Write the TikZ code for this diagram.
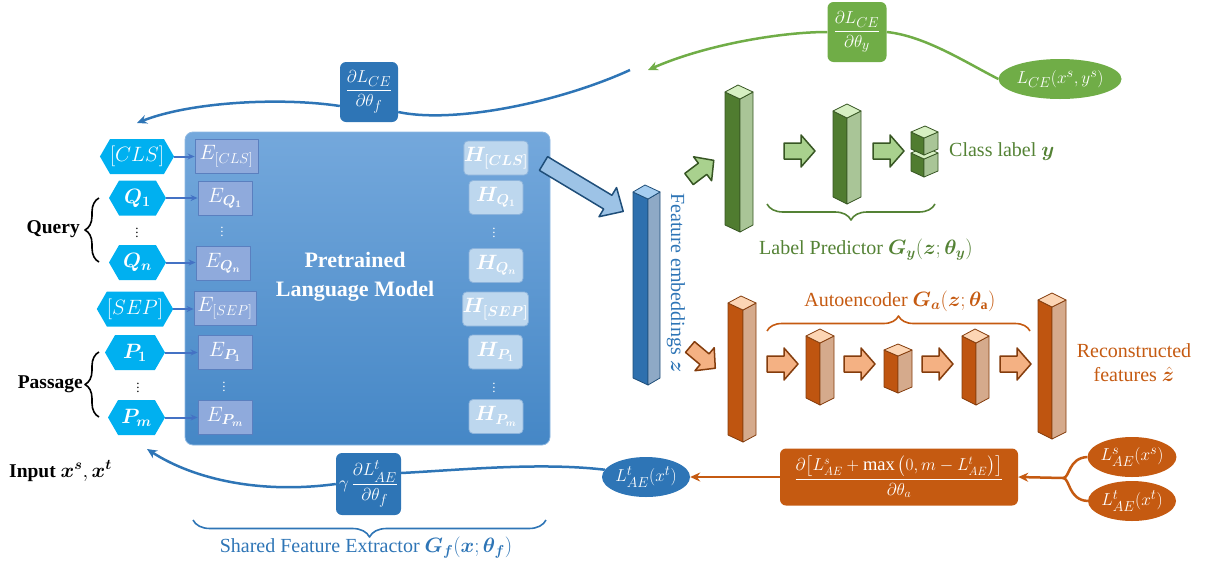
\documentclass[tikz,border=0pt]{standalone}
\usepackage{fontspec}
\setmainfont{Liberation Serif}
\usepackage{amsmath}
\usepackage{bm}
\usetikzlibrary{shapes.symbols,shapes.geometric,arrows.meta,decorations.pathreplacing}

% palette
\definecolor{plmtop}{HTML}{74A8DC}
\definecolor{plmbot}{HTML}{4587C6}
\definecolor{plmedge}{HTML}{8DB8E2}
\definecolor{hexcyan}{HTML}{00B0F0}
\definecolor{ebox}{HTML}{8FAADC}
\definecolor{eboxedge}{HTML}{5A7FBF}
\definecolor{hbox}{HTML}{BDD7EE}
\definecolor{hboxedge}{HTML}{8DB4DC}
\definecolor{darkblue}{HTML}{2E75B6}
\definecolor{linkblue}{HTML}{4472C4}
\definecolor{navy}{HTML}{1F4E79}
\definecolor{skyblue}{HTML}{9DC3E6}
\definecolor{bfront}{HTML}{2E70AE}
\definecolor{bside}{HTML}{8EA9C6}
\definecolor{btop}{HTML}{A5CDF0}
\definecolor{bedge}{HTML}{1F4E79}
\definecolor{ggreen}{HTML}{70AD47}
\definecolor{gtext}{HTML}{548235}
\definecolor{gfront}{HTML}{507C30}
\definecolor{gside}{HTML}{A9C597}
\definecolor{gtop}{HTML}{D6EFC2}
\definecolor{gedge}{HTML}{375623}
\definecolor{garrow}{HTML}{A9D18E}
\definecolor{orng}{HTML}{C55A11}
\definecolor{ofront}{HTML}{BF5510}
\definecolor{oside}{HTML}{D5AA8C}
\definecolor{otop}{HTML}{FCD5B4}
\definecolor{oedge}{HTML}{843C0C}
\definecolor{oarrow}{HTML}{F4B183}

% a layer drawn as a prism: left x, ridge x, right x, top y, bottom y, depth, palette
\newcommand{\drawprism}[7]{%
  \filldraw[draw=#7edge, line width=0.8pt, fill=#7front] (#1,#4) -- (#2,#4+#6) -- (#2,#5+#6) -- (#1,#5) -- cycle;
  \filldraw[draw=#7edge, line width=0.8pt, fill=#7side] (#2,#4+#6) -- (#3,#4) -- (#3,#5) -- (#2,#5+#6) -- cycle;
  \filldraw[draw=#7edge, line width=0.8pt, fill=#7top] (#1,#4) -- (#1+#3-#2,#4-#6) -- (#3,#4) -- (#2,#4+#6) -- cycle;}

% a block arrow: tail x, tail y, angle, length, shaft half width, head half width, head length, style
\newcommand{\blockarrow}[8]{%
  \begin{scope}[shift={(#1,#2)}, rotate=#3]
    \filldraw[#8] (0,#5) -- (#4-#7,#5) -- (#4-#7,#6) -- (#4,0) -- (#4-#7,-#6) -- (#4-#7,-#5) -- (0,-#5) -- cycle;
  \end{scope}}

\begin{document}
\begin{tikzpicture}[x=1pt, y=-1pt, line join=round,
  lbl/.style={font=\fontsize{20}{24}\selectfont, inner sep=0pt},
  hex/.style={signal, signal to=east and west, signal pointer angle=120, fill=hexcyan, draw=none,
    text=white, minimum height=35pt, inner sep=0pt, font=\fontsize{20}{22}\selectfont},
  ebx/.style={rectangle, fill=ebox, draw=eboxedge, line width=0.8pt, text=white,
    minimum height=34pt, inner sep=0pt, font=\fontsize{20}{22}\selectfont},
  hbx/.style={rectangle, rounded corners=4pt, fill=hbox, draw=hboxedge, line width=0.8pt, text=white,
    minimum height=34pt, inner sep=0pt, font=\fontsize{20}{22}\selectfont},
  dotsw/.style={text=white, inner sep=0pt, font=\fontsize{13}{14}\selectfont},
  feed/.style={draw=linkblue, line width=2pt, -{Stealth[length=7pt,width=6pt]}},
  tip/.style={-{Stealth[length=10pt,width=9pt]}},
  bwire/.style={draw=darkblue, line width=2.5pt},
  gwire/.style={draw=ggreen, line width=2.5pt},
  owire/.style={draw=orng, line width=2.5pt},
  gradbox/.style={rectangle, rounded corners=6pt, text=white, inner sep=2pt, font=\fontsize{19}{22}\selectfont},
  lossell/.style={ellipse, text=white, inner sep=0pt, font=\fontsize{19}{22}\selectfont},
  curly/.style={decorate, decoration={brace, amplitude=#1}, line width=1.6pt},
  garr/.style={fill=garrow, draw=gedge, line width=1.5pt},
  oarr/.style={fill=oarrow, draw=oedge, line width=1.5pt},
  barr/.style={fill=skyblue, draw=navy, line width=1.5pt}]
\useasboundingbox (0,0) rectangle (1206,568);

% ---------- shared feature extractor ----------
\node[rectangle, rounded corners=8pt, top color=plmtop, bottom color=plmbot, draw=plmedge, line width=0.8pt,
  minimum width=365pt, minimum height=313pt] (plm) at (367.5,288.5) {};
\node[font=\bfseries\fontsize{22}{29}\selectfont, text=white, align=center] (plmtext) at (355,277)
  {Pretrained\\Language Model};

% input tokens
\node[hex, minimum width=70pt] (xcls) at (137,156.5) {$[CLS]$};
\node[hex, minimum width=57pt] (xq1) at (137.5,198) {$\bm{Q_1}$};
\node[inner sep=0pt, font=\fontsize{13}{14}\selectfont] (xqdots) at (137,230) {$\vdots$};
\node[hex, minimum width=57pt] (xqn) at (137.5,262.5) {$\bm{Q_n}$};
\node[hex, minimum width=74pt] (xsep) at (135,309) {$[SEP]$};
\node[hex, minimum width=60pt] (xp1) at (135,352.5) {$\bm{P_1}$};
\node[inner sep=0pt, font=\fontsize{13}{14}\selectfont] (xpdots) at (138,385) {$\vdots$};
\node[hex, minimum width=57pt] (xpm) at (136.5,417.5) {$\bm{P_m}$};

% embeddings
\node[ebx, minimum width=63pt] (ecls) at (226.5,156.5) {$E_{[CLS]}$};
\node[ebx, minimum width=54pt] (eq1) at (225,198) {$E_{\bm{Q_1}}$};
\node[dotsw] (eqdots) at (222,229) {$\vdots$};
\node[ebx, minimum width=54pt] (eqn) at (223,263) {$E_{\bm{Q_n}}$};
\node[ebx, minimum width=62pt] (esep) at (225,308.5) {$E_{[SEP]}$};
\node[ebx, minimum width=54pt] (ep1) at (225,352) {$E_{\bm{P_1}}$};
\node[dotsw] (epdots) at (224,384) {$\vdots$};
\node[ebx, minimum width=54pt] (epm) at (225,417) {$E_{\bm{P_m}}$};

% hidden states
\node[hbx, minimum width=62pt] (hcls) at (496,158) {$\bm{H_{[CLS]}}$};
\node[hbx, minimum width=54pt] (hq1) at (496,197.5) {$\bm{H_{Q_1}}$};
\node[dotsw] (hqdots) at (494,230) {$\vdots$};
\node[hbx, minimum width=54pt] (hqn) at (496,265.5) {$\bm{H_{Q_n}}$};
\node[hbx, minimum width=63pt] (hsep) at (495.5,309) {$\bm{H_{[SEP]}}$};
\node[hbx, minimum width=54pt] (hp1) at (495.5,352) {$\bm{H_{P_1}}$};
\node[dotsw] (hpdots) at (494,385) {$\vdots$};
\node[hbx, minimum width=54pt] (hpm) at (496,416.5) {$\bm{H_{P_m}}$};

% token -> embedding
\foreach \a/\b in {xcls/ecls, xq1/eq1, xqn/eqn, xsep/esep, xp1/ep1, xpm/epm}
  \draw[feed] (\a.east) -- (\a.east -| \b.west);

% grouping braces
\draw[curly=14] (99,262) -- (99,198);
\node[font=\bfseries\fontsize{19.5}{22}\selectfont, anchor=east, inner sep=0pt] (query) at (80,229) {Query};
\draw[curly=14] (99,417) -- (99,352);
\node[font=\bfseries\fontsize{19.5}{22}\selectfont, anchor=east, inner sep=0pt] (passage) at (83,384) {Passage};
\node[font=\bfseries\fontsize{19.5}{22}\selectfont, anchor=west, inner sep=0pt] (input) at (9,471)
  {Input $\bm{x^s},\bm{x^t}$};

\draw[curly=17, draw=darkblue] (546,520) -- (193,520);
\node[lbl, text=darkblue] (gflabel) at (366,548) {Shared Feature Extractor $\bm{G_f}(\bm{x};\bm{\theta_f})$};

% ---------- feature embeddings ----------
\blockarrow{543.5}{163.5}{-31}{93}{8}{17}{18}{barr}
\drawprism{633}{648}{660}{192}{378}{7}{b}
\node[lbl, text=darkblue, rotate=-90] (zlabel) at (676,283) {Feature embeddings $\bm{z}$};

% ---------- label predictor ----------
\blockarrow{689}{179}{37}{31}{7}{15}{14}{garr}
\drawprism{725}{740}{753}{92}{225}{7}{g}
\blockarrow{784}{151}{0}{31}{8}{16}{14}{garr}
\drawprism{833}{847}{861}{111}{197}{7}{g}
\blockarrow{873}{151}{0}{31}{8}{16}{14}{garr}
\drawprism{911}{924}{938}{153}{171}{6}{g}
\drawprism{911}{924}{938}{132}{149}{6}{g}
\node[lbl, text=gtext, anchor=west] (ylabel) at (949,152) {Class label $\bm{y}$};
\draw[curly=16, draw=gtext] (935,204) -- (767,204);
\node[lbl, text=gtext] (gylabel) at (866,250) {Label Predictor $\bm{G_y}(\bm{z};\bm{\theta_y})$};

% ---------- autoencoder ----------
\blockarrow{690}{347}{-40}{33}{7}{15}{14}{oarr}
\drawprism{728}{743}{756}{303}{435}{7}{o}
\blockarrow{767}{364}{0}{31}{8}{16}{14}{oarr}
\drawprism{806}{820}{834}{336}{398}{7}{o}
\blockarrow{844}{364}{0}{31}{8}{16}{14}{oarr}
\drawprism{884}{898}{912}{350}{387}{6}{o}
\blockarrow{922}{364}{0}{31}{8}{16}{14}{oarr}
\drawprism{962}{976}{989}{336}{398}{7}{o}
\blockarrow{1000}{364}{0}{31}{8}{16}{14}{oarr}
\drawprism{1038}{1052}{1066}{300}{432}{7}{o}
\draw[curly=15, draw=orng] (767,331) -- (1030,331);
\node[lbl, text=orng] (galabel) at (900,301) {Autoencoder $\bm{G_a}(\bm{z};\bm{\theta}_{\mathbf{a}})$};
\node[lbl, text=orng, align=center] (zhat) at (1134,363) {Reconstructed\\features $\hat{\bm{z}}$};

% ---------- classification loss and its gradients ----------
\node[lossell, fill=ggreen, minimum width=113pt, minimum height=40pt] (lce) at (1060,79) {$L_{CE}(x^s,y^s)$};
\node[gradbox, fill=ggreen, minimum width=59pt, minimum height=60pt] (gy) at (857,32)
  {$\dfrac{\partial L_{CE}}{\partial \theta_y}$};
\coordinate (gend) at (648,70);
\draw[gwire] (lce.west) .. controls (965,62) and (925,36) .. (gy.east);
\draw[gwire, tip] (gy.west) .. controls (780,32) and (705,45) .. (gend);

\node[gradbox, fill=darkblue, minimum width=58pt, minimum height=60pt] (gf) at (369,92)
  {$\dfrac{\partial L_{CE}}{\partial \theta_f}$};
\coordinate (bstart) at (630,70);
\coordinate (clsend) at (137,123);
\draw[bwire] (bstart) .. controls (560,102) and (455,124) .. ([yshift=-20pt]gf.east);
\draw[bwire, tip] ([yshift=-14pt]gf.west) .. controls (280,97) and (190,102) .. (clsend);

% ---------- reconstruction loss and its gradients ----------
\node[lossell, fill=orng, minimum width=88pt, minimum height=40pt] (los) at (1132,457) {$L^{s}_{AE}(x^s)$};
\node[lossell, fill=orng, minimum width=88pt, minimum height=40pt] (lot) at (1132,501) {$L^{t}_{AE}(x^t)$};
\node[gradbox, fill=orng, minimum width=238pt, minimum height=57pt, inner sep=1pt,
  font=\fontsize{18.5}{21}\selectfont] (ga) at (899,477)
  {$\dfrac{\partial\big[L^{s}_{AE}+\max\big(0,m-L^{t}_{AE}\big)\big]}{\partial\theta_a}$};
\coordinate (fork) at (1063,478);
\draw[owire] (fork) .. controls (1070,478) and (1068,458) .. (los.west);
\draw[owire] (fork) .. controls (1070,478) and (1068,500) .. (lot.west);
\draw[owire, tip] (fork) -- (ga.east);

\node[lossell, fill=darkblue, minimum width=88pt, minimum height=40pt] (lat) at (646,477) {$L^{t}_{AE}(x^t)$};
\draw[owire, tip] (ga.west) -- (lat.east);

\node[gradbox, fill=darkblue, minimum width=65pt, minimum height=62pt] (gg) at (368.5,484)
  {$\gamma\,\dfrac{\partial L^{t}_{AE}}{\partial \theta_f}$};
\coordinate (pmend) at (147,449);
\draw[bwire] (lat.170) .. controls (540,462) and (460,470) .. ([yshift=11pt]gg.east);
\draw[bwire, tip] (gg.west) .. controls (262,494) and (195,480) .. (pmend);
\end{tikzpicture}
\end{document}
